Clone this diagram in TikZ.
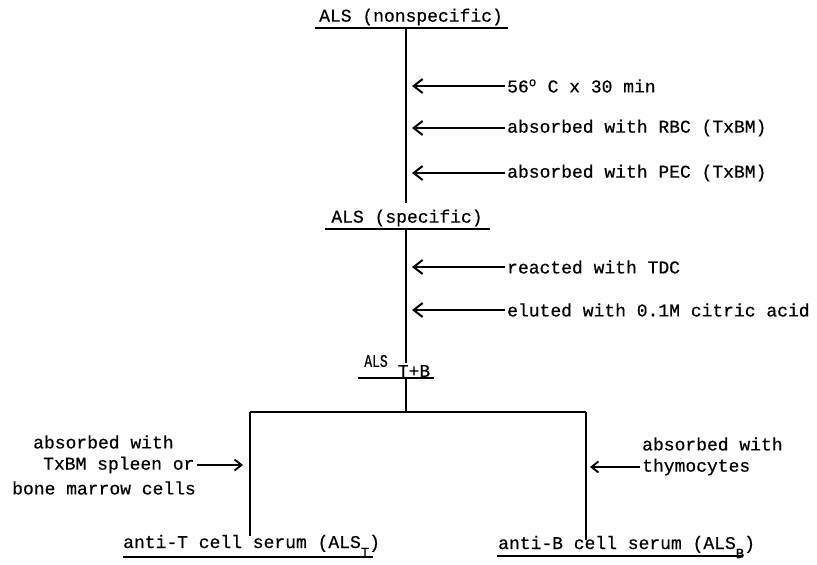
\documentclass[tikz,border=0pt]{standalone}
\usepackage{fontspec}
\setmonofont[FakeBold=0.6]{Liberation Mono}
\usetikzlibrary{arrows.meta,positioning}
\tikzset{
    stage/.style={
           font=\ttfamily\fontsize{18}{22}\selectfont,
           inner sep=0pt,
           },
    treatment/.style={
           font=\ttfamily\fontsize{18}{22}\selectfont,
           inner sep=2pt,
           anchor=west,
           },
    flow/.style={line width=1.8pt},
    absorb/.style={-{Straight Barb[length=9pt,width=14pt,line width=2pt]}, line width=1.5pt},
    absorbsmall/.style={-{Straight Barb[length=7pt,width=11pt,line width=1.8pt]}, line width=1.4pt},
}

\begin{document}
\begin{tikzpicture}[x=1pt,y=-1pt]
\useasboundingbox (0,0) rectangle (817,565);
% nonspecific serum
\node[stage] (nonspec) at (411,17) {ALS (nonspecific)};
\draw[flow] (315,28) -- (508,28);
\coordinate (top0) at (406,28);
\coordinate (top1) at (406,203);
\coordinate (hit) at (412,0);
\draw[flow] (top0) -- (top1);
\node[treatment] (heat) at (505,86) {56\textsuperscript{o} C x 30 min};
\node[treatment] (rbc) at (505,128) {absorbed with RBC (TxBM)};
\node[treatment] (pec) at (505,173) {absorbed with PEC (TxBM)};
\draw[absorb] (heat.west) -- (heat.west -| hit);
\draw[absorb] (rbc.west) -- (rbc.west -| hit);
\draw[absorb] (pec.west) -- (pec.west -| hit);
% specific serum
\node[stage] (spec) at (407,218) {ALS (specific)};
\draw[flow] (325,229) -- (490,229);
\coordinate (mid0) at (406,229);
\coordinate (mid1) at (406,363);
\draw[flow] (mid0) -- (mid1);
\node[treatment] (tdc) at (505,267) {reacted with TDC};
\node[treatment] (elute) at (505,310) {eluted with 0.1M citric acid};
\draw[absorb] (tdc.west) -- (tdc.west -| hit);
\draw[absorb] (elute.west) -- (elute.west -| hit);
% T+B serum
\node[stage] (tbals) at (376,361) {\scalebox{0.72}[1]{ALS}};
\node[stage] (tbsub) at (414,371) {T+B};
\draw[flow] (358,378) -- (434,378);
\coordinate (low0) at (406,378);
\coordinate (fork) at (406,412);
\coordinate (forkl) at (250,412);
\coordinate (forkr) at (586,412);
\coordinate (endl) at (250,536);
\coordinate (endr) at (586,540);
\draw[flow] (low0) -- (fork);
\draw[flow] (forkl) -- (forkr);
\draw[flow] (forkl) -- (endl);
\draw[flow] (forkr) -- (endr);
% branch absorptions
\node[stage, anchor=west] (lab1) at (33,442) {absorbed with};
\node[stage, anchor=west] (lab2) at (43,465) {TxBM spleen or};
\node[stage, anchor=west] (lab3) at (12,488) {bone marrow cells};
\draw[absorbsmall] ([xshift=2pt]lab2.east) -- (243,465);
\node[stage, anchor=west] (rab1) at (642,444) {absorbed with};
\node[stage, anchor=west] (rab2) at (642,467) {thymocytes};
\draw[absorbsmall] ([xshift=-2pt]rab2.west) -- (590,467);
% final sera
\node[stage, anchor=west] (antit) at (123,546) {anti-T cell serum (ALS\raisebox{-9pt}{\fontsize{14}{14}\selectfont T})};
\draw[flow] (123,557) -- (373,557);
\node[stage, anchor=west] (antib) at (498,547) {anti-B cell serum (ALS\raisebox{-9pt}{\fontsize{14}{14}\selectfont B})};
\draw[flow] (497,556) -- (743,556);
\end{tikzpicture}
\end{document}
